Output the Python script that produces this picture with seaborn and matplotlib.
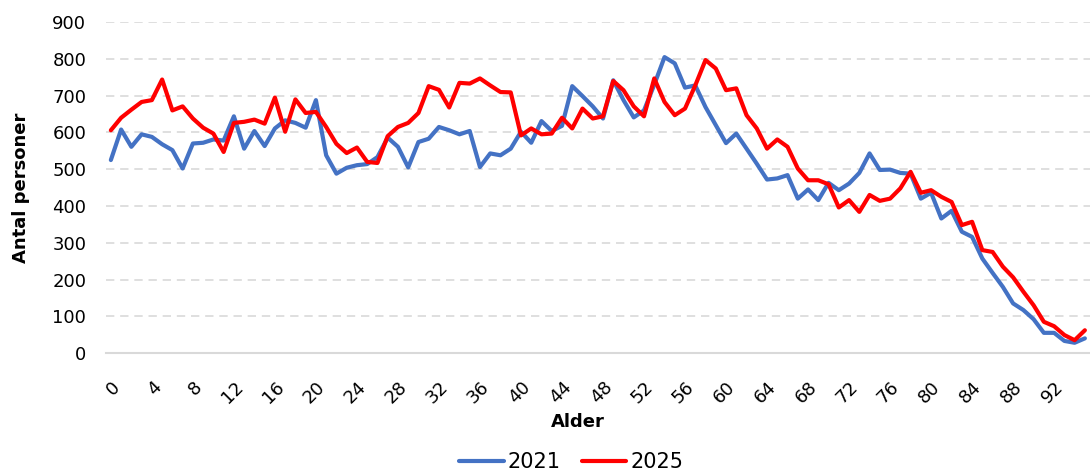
import pandas as pd
import seaborn as sns
import matplotlib.pyplot as plt

ages = list(range(96))

# antal personer per alder, 2021
pop_2021 = [525, 608, 561, 595, 588, 568, 552, 502, 570, 572,
            581, 578, 644, 556, 604, 563, 611, 633, 626, 613,
            688, 538, 488, 504, 511, 514, 533, 586, 561, 505,
            574, 583, 615, 606, 595, 604, 506, 543, 538, 556,
            602, 572, 631, 604, 618, 726, 699, 671, 638, 742,
            688, 641, 660, 730, 805, 788, 722, 728, 669, 620,
            571, 597, 556, 515, 472, 475, 484, 420, 445, 416,
            463, 443, 461, 490, 543, 498, 499, 490, 488, 420,
            436, 366, 387, 330, 316, 257, 218, 180, 135, 117,
            92, 55, 55, 33, 28, 40]

# antal personer per alder, 2025
pop_2025 = [606, 640, 662, 683, 688, 744, 660, 671, 638, 613,
            597, 547, 626, 629, 635, 624, 695, 602, 690, 653,
            656, 615, 569, 544, 559, 520, 517, 590, 615, 626,
            653, 726, 716, 668, 735, 733, 747, 728, 710, 709,
            592, 611, 595, 597, 640, 611, 665, 638, 644, 740,
            715, 671, 644, 747, 683, 647, 665, 728, 797, 774,
            715, 720, 647, 611, 556, 581, 561, 502, 470, 470,
            459, 396, 416, 384, 430, 414, 420, 448, 493, 436,
            443, 425, 411, 348, 357, 280, 275, 235, 206, 167,
            130, 85, 73, 49, 35, 62]

years = ['2021', '2025']
colors = {'2021': '#4472C4', '2025': '#FF0000'}

df = pd.concat([
    pd.DataFrame({'Alder': ages, 'Antal': pop_2021, 'År': '2021'}),
    pd.DataFrame({'Alder': ages, 'Antal': pop_2025, 'År': '2025'}),
], ignore_index=True)

sns.set_style('white')
plt.rcParams['font.family'] = ['DejaVu Sans']
plt.rcParams['text.color'] = 'black'

fig = plt.figure(figsize=(10.9, 4.72), dpi=100)
ax = fig.add_axes([0.097, 0.252, 0.903, 0.701])

sns.lineplot(data=df, x='Alder', y='Antal', hue='År', hue_order=years,
             palette=colors, lw=3, ax=ax, legend=True,
             solid_joinstyle='round', solid_capstyle='round')

ax.set_xlim(-0.5, 95.5)
ax.set_ylim(0, 900)
ax.set_yticks(range(0, 901, 100))
ax.set_xticks(range(0, 93, 4))
ax.set_xticklabels([str(a) for a in range(0, 93, 4)], rotation=45,
                   ha='right', va='top', rotation_mode='anchor')
ax.tick_params(axis='both', length=0, labelsize=13, labelcolor='black')
ax.tick_params(axis='x', pad=18)
ax.tick_params(axis='y', pad=14)

ax.yaxis.grid(True, linestyle=(0, (5, 3.5)), lw=1.2, color='#D9D9D9')
ax.set_axisbelow(True)
for s in ['top', 'right', 'left']:
    ax.spines[s].set_visible(False)
ax.spines['bottom'].set_color('#D9D9D9')
ax.spines['bottom'].set_linewidth(1.5)

ax.set_xlabel('Alder', fontsize=13, fontweight='bold', color='black')
ax.xaxis.set_label_coords(0.48, -0.18)
ax.set_ylabel('Antal personer', fontsize=13, fontweight='bold', labelpad=16,
              color='black')

handles, labels = ax.get_legend_handles_labels()
ax.get_legend().remove()
fig.legend(handles, labels, loc='lower center', bbox_to_anchor=(0.524, -0.04),
           ncol=2, frameon=False, fontsize=15, handlelength=2.15,
           handletextpad=0.2, columnspacing=1.0)

fig.savefig('out.png', dpi=100)
